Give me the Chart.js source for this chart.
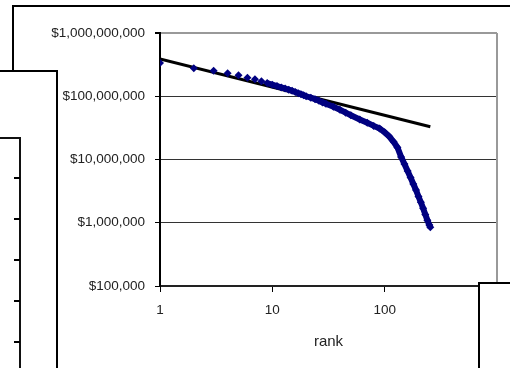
<!DOCTYPE html>
<html>
<head>
<meta charset="utf-8">
<script src="https://cdn.jsdelivr.net/npm/chart.js@4/dist/chart.umd.min.js"></script>
<style>
  body { margin: 0; background: #fff; overflow: hidden; }
  #stage { position: relative; width: 510px; height: 368px; overflow: hidden; }
  #chart { position: absolute; left: 0; top: 0; z-index: 1; }
  .box { position: absolute; box-sizing: border-box; background: #fff; }
  #box1 { left: 12px; top: 5px; width: 600px; height: 500px; border-top: 2px solid #000; border-left: 2px solid #000; z-index: 0; }
  #box2 { left: -10px; top: 70px; width: 68px; height: 400px; border: 2px solid #000; z-index: 2; }
  #box3 { left: -10px; top: 137px; width: 31px; height: 400px; border: 2px solid #111; z-index: 3; }
  #box4 { left: 478px; top: 282px; width: 100px; height: 100px; border: 2px solid #000; z-index: 4; }
  .tick { position: absolute; width: 6px; height: 2px; background: #000; z-index: 4; }
</style>
</head>
<body>
<div id="stage">
  <div class="box" id="box1"></div>
  <canvas id="chart" width="510" height="368"></canvas>
  <div class="box" id="box2"></div>
  <div class="box" id="box3"></div>
  <div class="box" id="box4"></div>
</div>
<script>
// Firm revenue by rank
const ranks = [1, 2, 3, 4, 5, 6, 7, 8, 9, 10, 11, 12, 13, 14, 15, 16, 17, 18, 19, 20,
  22, 24, 26, 28, 30, 35, 40, 45, 50, 60, 70, 80, 90, 100, 110, 120, 130, 140, 150,
  160, 170, 180, 190, 200, 210, 220, 230, 240, 250, 255];
const revenue = [335e6, 277e6, 252e6, 230e6, 215e6, 196e6, 186e6, 173e6, 162e6, 152e6,
  145e6, 138e6, 132e6, 127e6, 122e6, 117e6, 112e6, 108e6, 104e6, 100e6,
  95e6, 90e6, 85e6, 80e6, 76e6, 68e6, 61e6, 55e6, 50e6, 43e6, 38e6, 34e6, 31e6, 27e6,
  23e6, 19e6, 15.5e6, 11e6, 8.5e6, 6.6e6, 5.2e6, 4.1e6, 3.3e6, 2.6e6, 2.1e6, 1.7e6,
  1.35e6, 1.1e6, 0.92e6, 0.85e6];

// Power trendline end points
const trendRanks = [1, 255];
const trendValues = [390e6, 33e6];

const xTickValues = [1, 10, 100, 1000];
const yTickValues = [1e5, 1e6, 1e7, 1e8, 1e9];

// Box-3 side ticks (decoration of the slide behind)
for (let i = 0; i < 5; i++) {
    const t = document.createElement('div');
    t.className = 'tick';
    t.style.left = '14px';
    t.style.top = (177 + i * 41) + 'px';
    document.getElementById('stage').appendChild(t);
}

const tickFont = { family: 'Liberation Sans, Arial, sans-serif', size: 13.5 };

// Grey right-hand edge of the plot area
const plotFrame = {
    id: 'plotFrame',
    afterDraw(chart) {
        const { ctx, chartArea } = chart;
        ctx.save();
        ctx.strokeStyle = '#999';
        ctx.lineWidth = 2;
        ctx.beginPath();
        ctx.moveTo(chartArea.right, chartArea.top);
        ctx.lineTo(chartArea.right, chartArea.bottom);
        ctx.stroke();
        ctx.restore();
    }
};

const ctx = document.getElementById('chart').getContext('2d');
new Chart(ctx, {
    type: 'scatter',
    data: {
        datasets: [{
            label: 'revenue',
            data: ranks.map((r, i) => ({ x: r, y: revenue[i] })),
            showLine: true,
            borderColor: '#000080',
            backgroundColor: '#000080',
            borderWidth: 6,
            // separate markers at the low ranks, a solid band where they overlap
            segment: { borderColor: c => c.p0.parsed.x < 9 ? 'rgba(0,0,0,0)' : '#000080' },
            pointStyle: 'rectRot',
            pointRadius: 4,
            pointBorderWidth: 0,
            order: 0
        }, {
            label: 'trend',
            data: trendRanks.map((r, i) => ({ x: r, y: trendValues[i] })),
            showLine: true,
            borderColor: '#000',
            borderWidth: 3,
            pointRadius: 0,
            order: 1
        }]
    },
    options: {
        responsive: false,
        animation: false,
        devicePixelRatio: 1,
        layout: { padding: { top: 33, right: 13, left: 0, bottom: 0 } },
        plugins: { legend: { display: false }, tooltip: { enabled: false } },
        scales: {
            x: {
                type: 'logarithmic',
                min: 1,
                max: 1000,
                afterBuildTicks: scale => { scale.ticks = xTickValues.map(v => ({ value: v })); },
                afterFit: scale => { scale.height = 82; scale.paddingLeft = 0; scale.paddingRight = 0; },
                ticks: {
                    autoSkip: false,
                    maxRotation: 0,
                    padding: 10,
                    color: '#222',
                    font: tickFont,
                    callback: v => String(v)
                },
                grid: { drawOnChartArea: false, drawTicks: true, tickLength: 6, tickColor: '#000', lineWidth: 1 },
                border: { color: '#222', width: 2 },
                title: {
                    display: true,
                    text: 'rank',
                    color: '#222',
                    font: { family: 'Liberation Sans, Arial, sans-serif', size: 15 },
                    padding: { top: 0, bottom: 17 }
                }
            },
            y: {
                type: 'logarithmic',
                min: 1e5,
                max: 1e9,
                afterBuildTicks: scale => { scale.ticks = yTickValues.map(v => ({ value: v })); },
                afterFit: scale => { scale.width = 160; scale.paddingTop = 0; scale.paddingBottom = 0; },
                ticks: {
                    padding: 10,
                    color: '#222',
                    font: tickFont,
                    callback: v => '$' + Number(v).toLocaleString('en-US')
                },
                grid: {
                    color: c => (c.tick && c.tick.value === 1e9) ? '#999' : '#333',
                    lineWidth: c => (c.tick && c.tick.value === 1e9) ? 2 : 1,
                    tickColor: '#000',
                    tickLength: 5
                },
                border: { color: '#000', width: 2 }
            }
        }
    },
    plugins: [plotFrame]
});
</script>
</body>
</html>
